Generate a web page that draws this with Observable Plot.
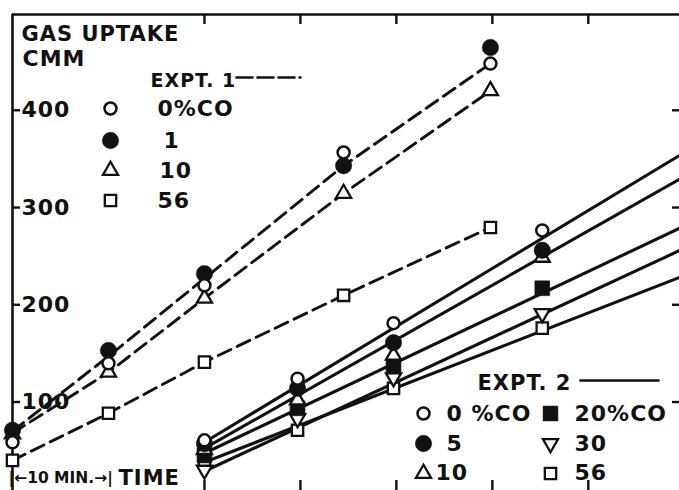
<!DOCTYPE html>
<html><head><meta charset="utf-8">
<script src="https://cdn.jsdelivr.net/npm/d3@7"></script>
<script src="https://cdn.jsdelivr.net/npm/@observablehq/plot@0.6"></script>
<style>
html,body{margin:0;padding:0;background:#fff;}
#chart svg text{letter-spacing:1px;}
</style></head><body><div id="chart"></div>
<script>
// ---------------- DATA ----------------
// Experiment 1 (dashed lines): time in minutes, gas uptake in cmm
const expt1Times = [0, 10, 20, 34.5, 49.8];
const expt1CO0  = [58.6, 139.8, 220, 356.6, 448];
const expt1CO1  = [71, 153, 232, 343, 464.5];
const expt1CO10 = [67, 130.5, 206.6, 314.5, 420];
const expt1CO56 = [40, 88.4, 141, 209.7, 279.5];
// dashed curves drawn through Expt 1 points
const expt1Line01 = [70, 147, 227, 343, 448];
const expt1Line10 = [68, 130.5, 206.6, 314.5, 420];
const expt1Line56 = [40, 88.4, 141, 209.7, 279.5];

// Experiment 2 (solid lines)
const expt2Times = [20, 29.7, 39.7, 55.2];
const expt2CO0  = [60.6, 124, 181, 276.5];
const expt2CO5  = [57, 114, 161, 256];
const expt2CO10 = [51, 102, 148, 248.7];
const expt2CO20 = [45, 93.5, 137.7, 217];
const expt2CO30 = [30, 83, 125, 191];
const expt2CO56 = [40, 71, 114, 176];
// straight solid lines (start / end)
const fitTimes = [20, 70];
const fitCO0   = [58.6, 356.6];
const fitCO510 = [52.4, 332];
const fitCO20  = [47.3, 281];
const fitCO30  = [28.8, 258];
const fitCO56  = [38, 230];

const yTickValues = [100, 200, 300, 400];
const xTickValues = [20, 30, 40, 50, 60];

// ---------------- LAYOUT ----------------
const W = 679, H = 490, mL = 12, mT = 14;
const X_DOMAIN = [0, 69.5], Y_DOMAIN = [9, 498.5];
const px2x = px => X_DOMAIN[0] + (px - mL) / (W - mL) * (X_DOMAIN[1] - X_DOMAIN[0]);
const px2y = py => Y_DOMAIN[1] - (py - mT) / (H - mT) * (Y_DOMAIN[1] - Y_DOMAIN[0]);
const INK = "#111";

const rows = (times, vals) => times.map((t, i) => ({t, v: vals[i]}));

// downward triangle symbol (mirror of d3.symbolTriangle)
const sqrt3 = Math.sqrt(3);
const triangleDown = {
  draw(context, size) {
    const y = -Math.sqrt(size / (sqrt3 * 3));
    context.moveTo(0, -y * 2);
    context.lineTo(-sqrt3 * y, y);
    context.lineTo(sqrt3 * y, y);
    context.closePath();
  }
};

const STY = {
  openCircle:  {symbol: "circle", r: 6, fill: "white", stroke: INK, strokeWidth: 2.5},
  fillCircle:  {symbol: "circle", r: 8.2, fill: INK, stroke: INK, strokeWidth: 0.5},
  openTri:     {symbol: "triangle", r: 5.6, fill: "white", stroke: INK, strokeWidth: 2.3},
  openSquare:  {symbol: "square", r: 6.4, fill: "white", stroke: INK, strokeWidth: 2.3},
  fillSquare:  {symbol: "square", r: 8.4, fill: INK, stroke: INK, strokeWidth: 0.5},
  openTriDown: {symbol: triangleDown, r: 5.6, fill: "white", stroke: INK, strokeWidth: 2.3}
};
const dots = (data, style) => Plot.dot(data, {x: "t", y: "v", ...style});
const dashed = vals => Plot.line(rows(expt1Times, vals), {x: "t", y: "v", stroke: INK, strokeWidth: 2.9, strokeDasharray: "14,7"});
const solid = vals => Plot.line(rows(fitTimes, vals), {x: "t", y: "v", stroke: INK, strokeWidth: 3.1, clip: true});

// legends / labels (pixel layout)
const legendDots = [
  [110, 108, STY.openCircle], [110, 140, STY.fillCircle], [110, 170, STY.openTri], [110, 200, STY.openSquare],
  [423, 413, STY.openCircle], [423, 443, STY.fillCircle], [423, 473, STY.openTri],
  [550, 413, STY.fillSquare], [550, 443, STY.openTriDown], [550, 473, STY.openSquare]
];
const labels = [
  {px: 21, py: 34, s: "GAS UPTAKE", size: 21},
  {px: 22, py: 58, s: "CMM", size: 22},
  {px: 150, py: 80, s: "EXPT. 1", size: 19},
  {px: 157, py: 108, s: "0%CO", size: 22},
  {px: 163, py: 140, s: "1", size: 22},
  {px: 159, py: 170, s: "10", size: 22},
  {px: 157, py: 200, s: "56", size: 22},
  {px: 477, py: 383, s: "EXPT. 2", size: 21},
  {px: 446, py: 413, s: "0 %CO", size: 22},
  {px: 446, py: 443, s: "5", size: 22},
  {px: 435, py: 472, s: "10", size: 22},
  {px: 574, py: 413, s: "20%CO", size: 22},
  {px: 574, py: 443, s: "30", size: 22},
  {px: 574, py: 472, s: "56", size: 22},
  {px: 8, py: 478, s: "|←10 MIN.→|", size: 15.5},
  {px: 118, py: 478, s: "TIME", size: 21}
];
const legendLines = [
  {x1: 236, x2: 300, py: 77, dash: "16,5"},
  {x1: 580, x2: 658, py: 380, dash: null}
];

const marks = [
  // frame & ticks
  Plot.ruleY([Y_DOMAIN[1]], {stroke: INK, strokeWidth: 2.6}),
  Plot.ruleX([X_DOMAIN[0]], {stroke: INK, strokeWidth: 2.6}),
  Plot.ruleY(yTickValues, {stroke: INK, strokeWidth: 2.4, insetRight: (W - mL) - 8}),
  Plot.ruleY(yTickValues, {stroke: INK, strokeWidth: 2.4, insetLeft: (W - mL) - 7}),
  Plot.ruleX(xTickValues, {stroke: INK, strokeWidth: 2.4, insetBottom: (H - mT) - 10}),
  Plot.ruleX(xTickValues, {stroke: INK, strokeWidth: 2.4, insetTop: (H - mT) - 10}),
  Plot.text(yTickValues, {y: d => d, frameAnchor: "left", dx: 9, textAnchor: "start", text: d => String(d), fontSize: 22, fill: INK}),
  // lines
  dashed(expt1Line01), dashed(expt1Line10), dashed(expt1Line56),
  solid(fitCO0), solid(fitCO510), solid(fitCO20), solid(fitCO30), solid(fitCO56),
  // Expt 1 markers
  dots(rows(expt1Times, expt1CO10), STY.openTri),
  dots(rows(expt1Times, expt1CO56), STY.openSquare),
  dots(rows(expt1Times, expt1CO1), STY.fillCircle),
  dots(rows(expt1Times, expt1CO0), STY.openCircle),
  // Expt 2 markers
  dots(rows(expt2Times, expt2CO56), STY.openSquare),
  dots(rows(expt2Times, expt2CO30), STY.openTriDown),
  dots(rows(expt2Times, expt2CO20), STY.fillSquare),
  dots(rows(expt2Times, expt2CO10), STY.openTri),
  dots(rows(expt2Times, expt2CO5), STY.fillCircle),
  dots(rows(expt2Times, expt2CO0), STY.openCircle),
  // legend samples
  ...legendLines.map(l => Plot.line([{t: px2x(l.x1), v: px2y(l.py)}, {t: px2x(l.x2), v: px2y(l.py)}],
      {x: "t", y: "v", stroke: INK, strokeWidth: 2.6, strokeDasharray: l.dash || undefined})),
  ...legendDots.map(([px, py, st]) => Plot.dot([{t: px2x(px), v: px2y(py)}], {x: "t", y: "v", ...st})),
  ...labels.map(l => Plot.text([l], {x: d => px2x(d.px), y: d => px2y(d.py), text: "s", textAnchor: "start", fontSize: l.size, fill: INK}))
];

const chart = Plot.plot({
  width: W, height: H,
  marginLeft: mL, marginTop: mT, marginRight: 0, marginBottom: 0,
  x: {domain: X_DOMAIN, axis: null},
  y: {domain: Y_DOMAIN, axis: null},
  style: {fontFamily: "'DejaVu Sans', sans-serif", fontSize: "22px", fontWeight: "bold", background: "white", color: INK},
  marks
});
d3.select(chart).selectAll("text").filter(function () { return /MIN/.test(this.textContent); })
  .style("letter-spacing", "0px");
document.getElementById("chart").appendChild(chart);
</script>
</body></html>
